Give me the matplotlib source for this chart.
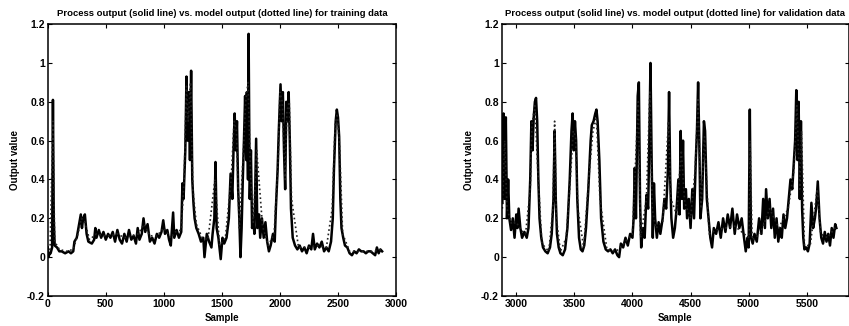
import matplotlib
matplotlib.use("Agg")
import matplotlib.pyplot as plt

# training data (samples 0..2880): process output
train_x = [0, 8, 15, 25, 38, 45, 52, 60, 80, 100, 120, 150, 180, 200, 220,
           230, 250, 270, 285, 295, 305, 320, 335, 350, 380, 400, 410, 420, 440,
           460, 480, 500, 520, 540, 560, 580, 600, 620, 640, 660, 680, 700, 720,
           740, 760, 775, 790, 810, 825, 840, 860, 880, 900, 920, 940, 960, 980,
           995, 1010, 1030, 1045, 1060, 1080, 1090, 1110, 1130, 1150, 1160, 1170,
           1185, 1195, 1205, 1215, 1225, 1235, 1245, 1255, 1265, 1280, 1300, 1320,
           1340, 1350, 1370, 1390, 1410, 1420, 1435, 1445, 1455, 1470, 1490, 1505,
           1520, 1540, 1560, 1575, 1590, 1600, 1610, 1620, 1630, 1640, 1650, 1660,
           1670, 1680, 1690, 1700, 1710, 1715, 1725, 1730, 1740, 1750, 1760, 1770,
           1780, 1795, 1805, 1820, 1830, 1845, 1860, 1875, 1890, 1905, 1920, 1940,
           1955, 1965, 1980, 1990, 2005, 2015, 2025, 2035, 2045, 2055, 2065, 2075,
           2085, 2095, 2110, 2130, 2150, 2170, 2190, 2210, 2230, 2250, 2270, 2285,
           2300, 2320, 2340, 2360, 2380, 2400, 2420, 2440, 2455, 2465, 2480, 2490,
           2500, 2510, 2520, 2530, 2545, 2560, 2580, 2600, 2620, 2640, 2660, 2680,
           2700, 2720, 2740, 2760, 2780, 2800, 2820, 2835, 2850, 2865, 2880]
train_y = [0.05, 0.0, 0.02, 0.02, 0.05, 0.81, 0.2, 0.06, 0.05, 0.03, 0.03, 0.02, 0.03, 0.02, 0.03,
           0.08, 0.10, 0.17, 0.22, 0.15, 0.20, 0.22, 0.12, 0.08, 0.07, 0.09, 0.15, 0.10, 0.14,
           0.10, 0.13, 0.09, 0.12, 0.10, 0.13, 0.08, 0.14, 0.09, 0.07, 0.12, 0.08, 0.14, 0.09,
           0.11, 0.07, 0.15, 0.09, 0.12, 0.20, 0.13, 0.17, 0.08, 0.10, 0.07, 0.12, 0.10, 0.13,
           0.19, 0.12, 0.14, 0.09, 0.06, 0.23, 0.10, 0.14, 0.10, 0.13, 0.38, 0.30,
           0.55, 0.93, 0.60, 0.85, 0.50, 0.96, 0.40, 0.28, 0.20, 0.15, 0.12, 0.08,
           0.10, 0.0, 0.12, 0.08, 0.05, 0.12, 0.20, 0.49, 0.15, 0.10, -0.01, 0.10,
           0.07, 0.10, 0.20, 0.43, 0.30, 0.55, 0.74, 0.55, 0.70, 0.35, 0.20, 0.0,
           0.15, 0.40, 0.60, 0.83, 0.50, 0.85, 0.40, 1.15, 0.30, 0.55, 0.15, 0.20,
           0.12, 0.61, 0.15, 0.22, 0.10, 0.20, 0.10, 0.18, 0.08, 0.03, 0.06, 0.12,
           0.08, 0.25, 0.45, 0.65, 0.89, 0.70, 0.85, 0.55, 0.35, 0.80, 0.70, 0.85,
           0.60, 0.25, 0.10, 0.06, 0.04, 0.06, 0.03, 0.05, 0.02, 0.06, 0.04, 0.12,
           0.04, 0.07, 0.05, 0.08, 0.03, 0.05, 0.03, 0.08, 0.20, 0.45, 0.70, 0.76,
           0.72, 0.62, 0.30, 0.15, 0.10, 0.06, 0.05, 0.02, 0.01, 0.03, 0.02, 0.04,
           0.03, 0.03, 0.02, 0.03, 0.03, 0.02, 0.01, 0.05, 0.02, 0.04, 0.03]

# training data: model output (dotted)
train_mx = [0, 20, 45, 60, 100, 160, 220, 260, 290, 320, 360, 420, 480, 540, 600,
            660, 720, 780, 830, 880, 940, 1000, 1060, 1100, 1150, 1175, 1195, 1210,
            1230, 1250, 1280, 1330, 1380, 1440, 1480, 1530, 1580, 1605, 1625, 1650,
            1690, 1705, 1725, 1745, 1770, 1800, 1850, 1900, 1950, 1985, 2000, 2020,
            2045, 2060, 2080, 2100, 2160, 2240, 2320, 2400, 2450, 2475, 2495, 2515,
            2540, 2600, 2700, 2800, 2880]
train_my = [0.04, 0.03, 0.70, 0.08, 0.04, 0.03, 0.04, 0.12, 0.20, 0.18, 0.09, 0.12, 0.11, 0.11, 0.12,
            0.10, 0.11, 0.12, 0.17, 0.11, 0.11, 0.15, 0.10, 0.13, 0.14, 0.40, 0.88, 0.70,
            0.90, 0.35, 0.17, 0.10, 0.09, 0.40, 0.06, 0.10, 0.40, 0.70, 0.65, 0.15,
            0.60, 0.80, 0.90, 0.45, 0.18, 0.55, 0.16, 0.06, 0.12, 0.50, 0.85, 0.80,
            0.40, 0.75, 0.80, 0.30, 0.05, 0.05, 0.06, 0.05, 0.25, 0.68, 0.74, 0.55,
            0.12, 0.03, 0.03, 0.03, 0.04]

# validation data (samples 2880..5755): process output
valid_x = [2880, 2890, 2900, 2910, 2920, 2930, 2940, 2955, 2970, 2985, 3000, 3010, 3020,
           3035, 3050, 3070, 3090, 3105, 3120, 3130, 3140, 3150, 3160, 3170, 3180,
           3190, 3200, 3215, 3230, 3250, 3270, 3290, 3305, 3320, 3330, 3340, 3350,
           3365, 3380, 3400, 3420, 3440, 3460, 3475, 3485, 3495, 3505, 3515, 3525,
           3540, 3555, 3570, 3585, 3600, 3620, 3640, 3650, 3665, 3680, 3690, 3700,
           3715, 3730, 3750, 3770, 3790, 3810, 3830, 3850, 3870, 3885, 3900, 3920,
           3940, 3960, 3980, 4000, 4010, 4020, 4030, 4045, 4055, 4065, 4075, 4090,
           4105, 4120, 4135, 4145, 4155, 4165, 4175, 4185, 4195, 4210, 4225, 4240,
           4260, 4275, 4290, 4305, 4315, 4325, 4335, 4350, 4365, 4380, 4395, 4405,
           4415, 4425, 4435, 4445, 4460, 4470, 4485, 4500, 4515, 4530, 4545, 4555,
           4565, 4575, 4585, 4600, 4615, 4625, 4640, 4655, 4670, 4685, 4700, 4720,
           4740, 4760, 4780, 4800, 4820, 4840, 4860, 4880, 4900, 4920, 4940, 4960,
           4975, 4990, 5000, 5010, 5020, 5035, 5050, 5070, 5090, 5110, 5125, 5140,
           5150, 5165, 5180, 5195, 5210, 5225, 5240, 5255, 5270, 5285, 5300, 5315,
           5330, 5345, 5360, 5375, 5390, 5400, 5410, 5420, 5430, 5440, 5450, 5460,
           5470, 5480, 5495, 5510, 5525, 5540, 5555, 5570, 5580, 5595, 5610, 5625,
           5640, 5655, 5670, 5685, 5700, 5715, 5730, 5745, 5755]
valid_y = [0.28, 0.74, 0.30, 0.72, 0.20, 0.40, 0.20, 0.14, 0.20, 0.10, 0.22, 0.15, 0.25,
           0.15, 0.10, 0.13, 0.10, 0.15, 0.40, 0.70, 0.55, 0.72, 0.80, 0.82, 0.70,
           0.40, 0.20, 0.10, 0.05, 0.03, 0.02, 0.05, 0.12, 0.30, 0.65, 0.30, 0.12,
           0.05, 0.02, 0.01, 0.04, 0.15, 0.40, 0.65, 0.74, 0.55, 0.70, 0.60, 0.30,
           0.10, 0.04, 0.03, 0.06, 0.15, 0.35, 0.60, 0.68, 0.70, 0.74, 0.76, 0.70,
           0.50, 0.20, 0.08, 0.04, 0.03, 0.04, 0.02, 0.04, 0.01, 0.0, 0.07, 0.05,
           0.10, 0.06, 0.12, 0.10, 0.20, 0.46, 0.20, 0.83, 0.90, 0.30, 0.05, 0.15,
           0.10, 0.32, 0.25, 0.60, 1.00, 0.50, 0.10, 0.38, 0.20, 0.10, 0.18, 0.12,
           0.20, 0.30, 0.25, 0.45, 0.85, 0.40, 0.20, 0.10, 0.15, 0.25, 0.40, 0.22,
           0.65, 0.30, 0.60, 0.25, 0.35, 0.20, 0.30, 0.15, 0.35, 0.20, 0.50, 0.65,
           0.90, 0.60, 0.20, 0.30, 0.70, 0.65, 0.30, 0.20, 0.10, 0.05, 0.15, 0.12,
           0.18, 0.10, 0.20, 0.13, 0.22, 0.15, 0.25, 0.12, 0.22, 0.15, 0.20, 0.10,
           0.03, 0.10, 0.05, 0.76, 0.10, 0.07, 0.12, 0.08, 0.20, 0.12, 0.30, 0.15,
           0.35, 0.20, 0.30, 0.15, 0.25, 0.10, 0.20, 0.08, 0.15, 0.10, 0.22, 0.15,
           0.20, 0.30, 0.40, 0.35, 0.50, 0.60, 0.86, 0.50, 0.80, 0.30, 0.70, 0.25,
           0.10, 0.04, 0.05, 0.03, 0.07, 0.28, 0.15, 0.20, 0.25, 0.39, 0.20, 0.10,
           0.07, 0.13, 0.08, 0.12, 0.06, 0.15, 0.10, 0.17, 0.15]

# validation data: model output (dotted)
valid_mx = [2880, 2900, 2920, 2960, 3000, 3040, 3080, 3120, 3135, 3160, 3185, 3220,
            3280, 3315, 3330, 3345, 3380, 3430, 3465, 3490, 3510, 3530, 3580, 3630,
            3660, 3690, 3720, 3780, 3860, 3940, 4000, 4020, 4050, 4070, 4120, 4150,
            4170, 4200, 4260, 4310, 4330, 4380, 4420, 4450, 4500, 4540, 4565, 4590,
            4620, 4660, 4720, 4800, 4880, 4960, 5005, 5012, 5030, 5100, 5180, 5260,
            5340, 5390, 5415, 5440, 5455, 5480, 5530, 5590, 5620, 5680, 5755]
valid_my = [0.25, 0.60, 0.25, 0.17, 0.18, 0.14, 0.12, 0.35, 0.68, 0.78, 0.45, 0.07,
            0.03, 0.25, 0.70, 0.20, 0.03, 0.10, 0.40, 0.65, 0.62, 0.25, 0.05, 0.45,
            0.65, 0.72, 0.30, 0.04, 0.03, 0.08, 0.12, 0.40, 0.80, 0.10, 0.30, 0.85,
            0.25, 0.15, 0.18, 0.70, 0.30, 0.22, 0.55, 0.28, 0.20, 0.45, 0.82, 0.25,
            0.62, 0.12, 0.14, 0.15, 0.16, 0.12, 0.10, 0.60, 0.09, 0.12, 0.25, 0.15,
            0.25, 0.45, 0.78, 0.35, 0.65, 0.06, 0.06, 0.35, 0.12, 0.10, 0.16]

plt.rcParams['font.family'] = ['Liberation Sans', 'DejaVu Sans']

fig = plt.figure(figsize=(8.49, 3.26), dpi=100)
ax1 = fig.add_axes([0.0562, 0.092, 0.4103, 0.834])
ax2 = fig.add_axes([0.591, 0.092, 0.4085, 0.834])

yticks = [-0.2, 0, 0.2, 0.4, 0.6, 0.8, 1, 1.2]
ylabels = ['-0.2', '0', '0.2', '0.4', '0.6', '0.8', '1', '1.2']

panels = [
    (ax1, train_x, train_y, train_mx, train_my, (0, 3000),
     [0, 500, 1000, 1500, 2000, 2500, 3000], 'training data'),
    (ax2, valid_x, valid_y, valid_mx, valid_my, (2875, 5860),
     [3000, 3500, 4000, 4500, 5000, 5500], 'validation data'),
]

for ax, x, y, mx, my, xlim, xt, name in panels:
    ax.plot(x, y, '-', color='black', lw=1.8)
    ax.plot(mx, my, ':', color='#222222', lw=1.2)
    ax.set_xlim(*xlim)
    ax.set_ylim(-0.2, 1.2)
    ax.set_xticks(xt)
    ax.set_xticklabels([str(v) for v in xt], fontsize=7.5, fontweight='bold')
    ax.set_yticks(yticks)
    ax.set_yticklabels(ylabels, fontsize=7.5, fontweight='bold')
    ax.tick_params(direction='in', length=3, width=0.8, top=True, right=True, pad=2)
    for s in ax.spines.values():
        s.set_linewidth(1.1)
    ax.set_title('Process output (solid line) vs. model output (dotted line) for ' + name,
                 fontsize=6.8, fontweight='bold', pad=6)
    ax.set_xlabel('Sample', fontsize=7, fontweight='bold', labelpad=3)
    ax.set_ylabel('Output value', fontsize=7, fontweight='bold', labelpad=5)

fig.savefig('out.png', dpi=100)
